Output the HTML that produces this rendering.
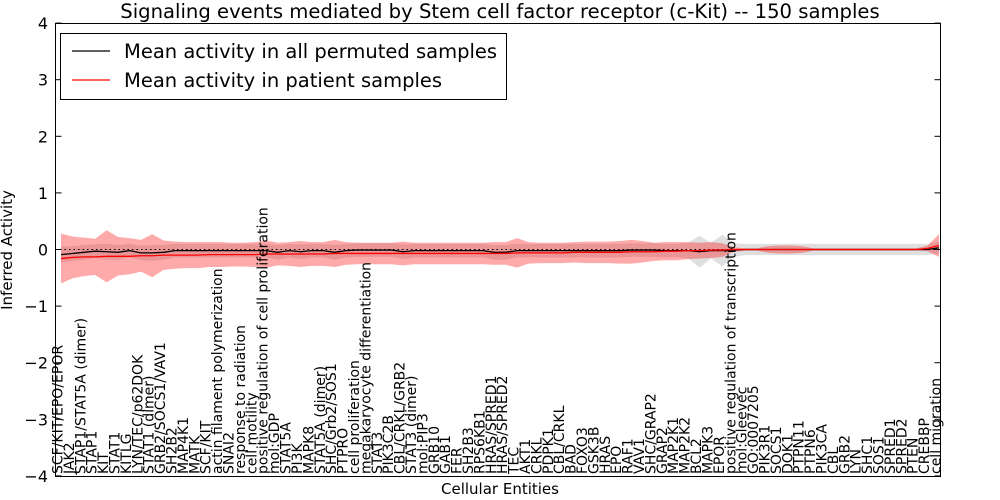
<!DOCTYPE html>
<html><head><meta charset="utf-8"><style>
body{margin:0;background:#fff;}
svg{display:block;font-family:"DejaVu Sans","Liberation Sans",sans-serif;}
</style></head><body>
<svg id="chart" width="1000" height="500" xmlns="http://www.w3.org/2000/svg">
<rect x="0" y="0" width="1000" height="500" fill="#fff"/>
<text x="500" y="18" font-size="19.6" text-anchor="middle">Signaling events mediated by Stem cell factor receptor (c-Kit) -- 150 samples</text>
<g id="bands"></g><g id="lines"></g><g id="xlabels"></g><g id="yaxis"></g>
<rect x="55.5" y="23.5" width="885" height="453" fill="none" stroke="#000" stroke-width="1"/>
<text x="500" y="494" font-size="15" text-anchor="middle">Cellular Entities</text>
<text transform="translate(12,250) rotate(-90)" font-size="15" text-anchor="middle">Inferred Activity</text>
<g>
<rect x="60.5" y="33.5" width="446" height="66" fill="#fff" stroke="#000"/>
<line x1="72" y1="51" x2="110" y2="51" stroke="#000" stroke-width="1.3"/>
<text x="124" y="58" font-size="19.5">Mean activity in all permuted samples</text>
<line x1="72" y1="80" x2="110" y2="80" stroke="#f00" stroke-width="1.3"/>
<text x="124" y="87" font-size="19.5">Mean activity in patient samples</text>
</g>
</svg>
<script>
const labels=["SCF/KIT/EPO/EPOR","JAK2","STAP1/STAT5A (dimer)","STAP1","KIT","STAT1","KITLG","LYN/TEC/p62DOK","STAT1 (dimer)","GRB2/SOCS1/VAV1","SH2B2","MAP4K1","MATK","SCF/KIT","actin filament polymerization","SNAI2","response to radiation","cell motility","positive regulation of cell proliferation","mol:GDP","STAT5A","PI3K","MAPK8","STAT5A (dimer)","SHC/Grb2/SOS1","PTPRO","cell proliferation","megakaryocyte differentiation","STAT3","PIK3C2B","CBL/CRKL/GRB2","STAT3 (dimer)","mol:PIP3","GRB10","GAB1","FER","SH2B3","RPS6KB1","HRAS/SPRED1","HRAS/SPRED2","TEC","AKT1","CRKL","PDPK1","CBL/CRKL","BAD","FOXO3","GSK3B","HRAS","EPO","RAF1","VAV1","SHC/GRAP2","GRAP2","MAP2K1","MAP2K2","BCL2","MAPK3","EPOR","positive regulation of transcription","mol:Gleevec","GO:0007205","PIK3R1","SOCS1","DOK1","PTPN11","PTPN6","PIK3CA","CBL","GRB2","LYN","SHC1","SOS1","SPRED1","SPRED2","PTEN","CREBBP","cell migration"];
const permMean=[-0.09,-0.07,-0.05,-0.03,-0.04,-0.05,-0.02,-0.06,-0.06,-0.05,-0.02,-0.02,-0.02,-0.02,-0.02,-0.02,-0.02,-0.02,-0.02,-0.05,-0.02,-0.04,-0.02,-0.02,-0.05,-0.02,-0.01,-0.01,-0.01,-0.01,-0.04,-0.02,-0.02,-0.02,-0.02,-0.02,-0.02,-0.02,-0.05,-0.05,-0.02,-0.02,-0.02,-0.02,-0.02,-0.02,-0.02,-0.02,-0.02,-0.02,-0.01,-0.01,-0.01,-0.02,-0.02,-0.02,-0.04,-0.02,-0.02,-0.01,0,0,0,0,0,0,0,0,0,0,0,0,0,0,0,0,0,0.03];
const permStd=[0.14,0.13,0.13,0.12,0.14,0.13,0.12,0.13,0.14,0.13,0.12,0.12,0.12,0.12,0.12,0.12,0.12,0.12,0.12,0.13,0.12,0.13,0.12,0.12,0.13,0.12,0.12,0.12,0.12,0.12,0.13,0.12,0.12,0.12,0.12,0.12,0.12,0.12,0.13,0.13,0.12,0.12,0.12,0.12,0.12,0.12,0.12,0.12,0.12,0.12,0.12,0.12,0.12,0.12,0.12,0.14,0.28,0.14,0.28,0.12,0.1,0.1,0.1,0.1,0.1,0.1,0.1,0.1,0.1,0.1,0.1,0.1,0.1,0.1,0.1,0.1,0.1,0.1];
const patMean=[-0.16,-0.14,-0.13,-0.13,-0.12,-0.12,-0.12,-0.11,-0.11,-0.1,-0.1,-0.1,-0.1,-0.09,-0.09,-0.09,-0.09,-0.09,-0.08,-0.08,-0.08,-0.08,-0.08,-0.08,-0.07,-0.07,-0.07,-0.07,-0.07,-0.07,-0.07,-0.07,-0.07,-0.07,-0.07,-0.07,-0.07,-0.07,-0.07,-0.07,-0.06,-0.06,-0.06,-0.06,-0.06,-0.05,-0.05,-0.05,-0.05,-0.05,-0.04,-0.04,-0.04,-0.03,-0.03,-0.02,-0.02,-0.01,-0.01,0,0,0,0,0,0,0,0,0,0,0,0,0,0,0,0,0,0.02,0.07];
const patStd=[0.44,0.37,0.34,0.32,0.46,0.34,0.32,0.28,0.38,0.26,0.24,0.23,0.23,0.22,0.22,0.21,0.21,0.22,0.24,0.2,0.21,0.23,0.21,0.21,0.24,0.2,0.19,0.19,0.19,0.19,0.21,0.19,0.19,0.19,0.19,0.19,0.19,0.19,0.2,0.2,0.26,0.19,0.18,0.18,0.18,0.18,0.19,0.19,0.19,0.2,0.21,0.19,0.16,0.16,0.16,0.15,0.14,0.14,0.12,0.04,0.02,0.02,0.06,0.07,0.07,0.06,0.02,0.02,0.02,0.02,0.02,0.02,0.02,0.02,0.02,0.02,0.05,0.2];
const yTicks=[4,3,2,1,0,-1,-2,-3,-4];
const NS="http://www.w3.org/2000/svg";
const X=i=>61+i*(939-61)/(labels.length-1);
const Y=v=>249.5-v*56.6;
function mk(t,a,p){const e=document.createElementNS(NS,t);for(const k in a)e.setAttribute(k,a[k]);p.appendChild(e);return e;}
function band(m,s){let up=m.map((v,i)=>X(i)+","+Y(v+s[i]));let lo=m.map((v,i)=>X(i)+","+Y(v-s[i])).reverse();return up.concat(lo).join(" ");}
const bands=document.getElementById('bands');
const gb=mk('polygon',{points:band(permMean,permStd),fill:'#bfbfbf','fill-opacity':'0.5',stroke:'none'},bands);


const rb=mk('polygon',{points:band(patMean,patStd),fill:'#ff2020','fill-opacity':'0.38',stroke:'none'},bands);


const lines=document.getElementById('lines');
const zl=mk('line',{x1:55.5,x2:940.5,y1:Y(0),y2:Y(0),stroke:'#000','stroke-dasharray':'1.5,3','stroke-width':1},lines);


const pl=mk('polyline',{points:permMean.map((v,i)=>X(i)+","+Y(v)).join(" "),fill:'none',stroke:'#000','stroke-width':1.3},lines);


const rl=mk('polyline',{points:patMean.map((v,i)=>X(i)+","+Y(v)).join(" "),fill:'none',stroke:'#f00','stroke-width':1.3},lines);


const xl=document.getElementById('xlabels');
labels.forEach((l,i)=>{const x=X(i)+1.5;const t=mk('text',{transform:`translate(${x},474) rotate(-90)`,'font-size':14},xl);t.textContent=l;

});
const ya=document.getElementById('yaxis');
yTicks.forEach(v=>{const y=Y(v);mk('line',{x1:55.5,x2:61.5,y1:y,y2:y,stroke:'#000'},ya);mk('line',{x1:934.5,x2:940.5,y1:y,y2:y,stroke:'#000'},ya);
const t=mk('text',{x:48,y:y+6,'font-size':16,'text-anchor':'end'},ya);t.textContent=v<0?'\u2212'+(-v):String(v);

});
</script>
</body></html>
